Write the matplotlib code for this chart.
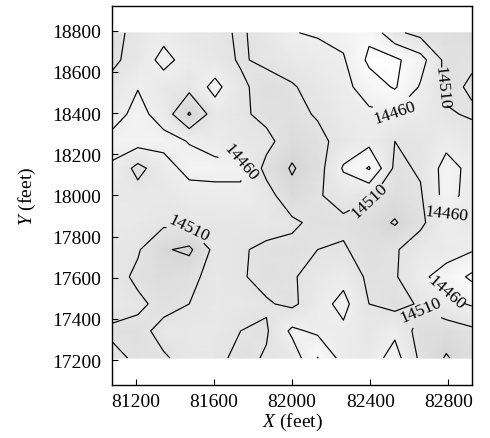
import numpy as np
import matplotlib
matplotlib.use("Agg")
import matplotlib.pyplot as plt
from matplotlib.colors import LinearSegmentedColormap

plt.rcParams['font.family'] = ['Liberation Serif', 'DejaVu Serif']
plt.rcParams['mathtext.fontset'] = 'custom'
plt.rcParams['mathtext.rm'] = 'Liberation Serif'
plt.rcParams['mathtext.it'] = 'Liberation Serif:italic'

# grid coordinates (feet)
x_feet = [81080, 81211, 81343, 81474, 81606, 81737, 81869, 82000,
          82131, 82263, 82394, 82526, 82657, 82789, 82920]
y_feet = [18790, 18658, 18527, 18395, 18263, 18132, 18000,
          17868, 17737, 17605, 17473, 17342, 17210]

# elevation values, rows from top (north) to bottom (south)
z_rows = [
    [14525, 14495, 14475, 14490, 14500, 14515, 14495, 14462, 14455, 14445, 14420, 14500, 14525, 14530, 14535],
    [14520, 14490, 14445, 14480, 14490, 14515, 14500, 14485, 14480, 14465, 14400, 14400, 14440, 14525, 14515],
    [14495, 14462, 14485, 14495, 14445, 14500, 14530, 14515, 14490, 14475, 14435, 14405, 14465, 14520, 14505],
    [14480, 14445, 14480, 14565, 14485, 14500, 14525, 14525, 14505, 14480, 14470, 14465, 14480, 14505, 14515],
    [14445, 14440, 14445, 14462, 14480, 14490, 14495, 14540, 14525, 14490, 14475, 14510, 14505, 14475, 14490],
    [14466, 14525, 14480, 14445, 14445, 14450, 14525, 14565, 14530, 14455, 14405, 14520, 14505, 14440, 14475],
    [14485, 14490, 14490, 14480, 14475, 14470, 14490, 14545, 14515, 14490, 14505, 14530, 14515, 14440, 14480],
    [14485, 14485, 14500, 14495, 14495, 14500, 14490, 14500, 14525, 14520, 14535, 14565, 14520, 14470, 14485],
    [14490, 14505, 14555, 14570, 14495, 14505, 14520, 14525, 14510, 14505, 14530, 14515, 14485, 14480, 14465],
    [14490, 14520, 14535, 14525, 14490, 14505, 14525, 14515, 14490, 14475, 14520, 14515, 14470, 14440, 14400],
    [14485, 14500, 14525, 14510, 14490, 14495, 14505, 14520, 14480, 14445, 14510, 14525, 14505, 14475, 14455],
    [14520, 14525, 14495, 14490, 14490, 14510, 14515, 14450, 14470, 14470, 14490, 14470, 14530, 14535, 14520],
    [14495, 14520, 14515, 14495, 14495, 14525, 14505, 14490, 14408, 14480, 14485, 14440, 14520, 14565, 14530],
]

line_levels = [14410, 14460, 14510, 14560]
label_levels = [14410, 14460, 14510]

X, Y = np.meshgrid(x_feet, y_feet)
Z = np.array(z_rows, dtype=float)

fig = plt.figure(figsize=(4.90, 4.39), dpi=100)
ax = fig.add_axes([0.229, 0.121, 0.734, 0.863])

cmap = LinearSegmentedColormap.from_list('g', ['#ffffff', '#d4d4d4'])
ax.pcolormesh(X, Y, Z, shading='gouraud', cmap=cmap, vmin=14395, vmax=14575)
cs = ax.contour(X, Y, Z, levels=line_levels, colors='black', linewidths=0.85)
lab = [l for l in cs.levels if l in label_levels]
ax.clabel(cs, levels=lab, fmt='%d', fontsize=12.5, inline=True, inline_spacing=1)

ax.set_xlim(81080, 82920)
ax.set_ylim(17080, 18920)
ax.set_xticks([81200, 81600, 82000, 82400, 82800])
ax.set_yticks([17200, 17400, 17600, 17800, 18000, 18200, 18400, 18600, 18800])
ax.tick_params(direction='in', length=4, labelsize=14, top=False, right=False)
ax.tick_params(axis='y', pad=8)
ax.tick_params(axis='x', pad=6)
ax.set_xlabel(r'$X$ (feet)', fontsize=14)
ax.set_ylabel(r'$Y$ (feet)', fontsize=14)
ax.xaxis.set_label_coords(0.5, -0.069)
ax.yaxis.set_label_coords(-0.205, 0.5)
for s in ax.spines.values():
    s.set_linewidth(1.0)

fig.savefig('out.png', dpi=100)
